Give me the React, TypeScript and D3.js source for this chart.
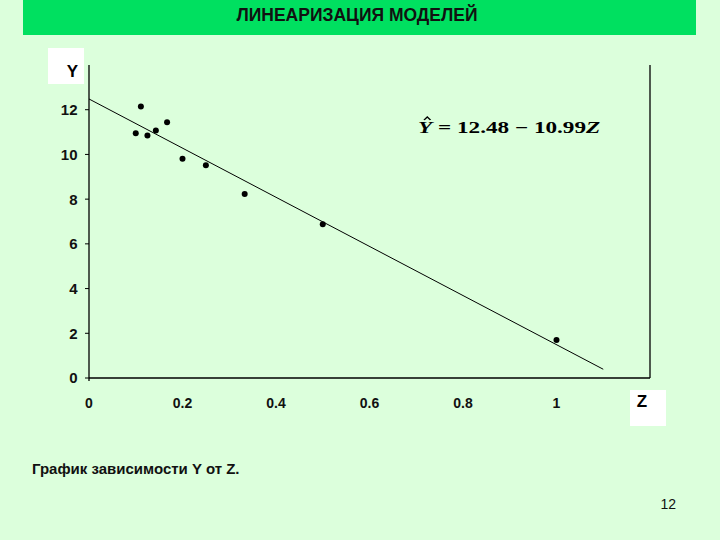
import React from "react";
import * as d3 from "d3";

const zValues = [0.1, 0.111, 0.125, 0.143, 0.167, 0.2, 0.25, 0.333, 0.5, 1];
const yValues = [10.95, 12.14, 10.85, 11.07, 11.44, 9.81, 9.52, 8.23, 6.88, 1.7];
const xTicks = [0, 0.2, 0.4, 0.6, 0.8, 1];
const xTickLabels = ["0", "0.2", "0.4", "0.6", "0.8", "1"];
const yTicks = [0, 2, 4, 6, 8, 10, 12];
const intercept = 12.48;
const slope = -10.99;
const lineZ = [0, 1.1];
const title = "ЛИНЕАРИЗАЦИЯ МОДЕЛЕЙ";
const caption = "График зависимости Y от Z.";
const pageNumber = "12";

const SANS = "'Liberation Sans', Arial, sans-serif";
const SERIF = "'Liberation Serif', 'Times New Roman', serif";

export default function App() {
  const x = d3.scaleLinear().domain([0, 1.2]).range([89, 650]);
  const y = d3.scaleLinear().domain([0, 14]).range([378, 65]);
  const line = d3
    .line<number>()
    .x((z) => x(z))
    .y((z) => y(intercept + slope * z));

  return (
    <svg
      width={720}
      height={540}
      style={{ position: "absolute", left: 0, top: 0 }}
      fontFamily={SANS}
    >
      <rect x={0} y={0} width={720} height={540} fill="#dcffdc" />
      <rect x={23} y={0} width={673} height={35} fill="#00e060" />
      <text x={357} y={21} textAnchor="middle" fontSize={17.5} fontWeight="bold" fill="#111">
        {title}
      </text>

      {/* axis label boxes */}
      <rect x={48} y={48} width={36} height={36} fill="#ffffff" />
      <text x={72.5} y={77} textAnchor="middle" fontSize={17} fontWeight="bold" fill="#000">
        Y
      </text>
      <rect x={630} y={390} width={36} height={36} fill="#ffffff" />
      <text x={642} y={407} textAnchor="middle" fontSize={17} fontWeight="bold" fill="#000">
        Z
      </text>

      {/* axes */}
      <line x1={x(0)} x2={x(0)} y1={y(14)} y2={y(0) + 3} stroke="#000" strokeWidth={1.3} />
      <line x1={x(0)} x2={x(1.2)} y1={y(0)} y2={y(0)} stroke="#000" strokeWidth={1.3} />
      <line x1={x(1.2)} x2={x(1.2)} y1={y(14)} y2={y(0)} stroke="#000" strokeWidth={1.3} />
      {yTicks.map((t) => (
        <g key={t}>
          <line x1={x(0) - 4} x2={x(0)} y1={y(t)} y2={y(t)} stroke="#000" strokeWidth={1} />
          <text
            x={77.5}
            y={y(t)}
            dy="0.36em"
            textAnchor="end"
            fontSize={15}
            fontWeight="bold"
            fill="#111"
          >
            {t}
          </text>
        </g>
      ))}
      {xTicks.map((t, i) => (
        <text
          key={t}
          x={x(t)}
          y={407.5}
          textAnchor="middle"
          fontSize={14}
          fontWeight="bold"
          fill="#111"
        >
          {xTickLabels[i]}
        </text>
      ))}

      {/* regression line */}
      <path d={line(lineZ) || ""} fill="none" stroke="#000" strokeWidth={1} />

      {/* points */}
      {zValues.map((z, i) => (
        <circle key={i} cx={x(z)} cy={y(yValues[i])} r={3} fill="#000" />
      ))}

      {/* equation */}
      <g transform="translate(418,133) scale(1.45,1)">
        <text x={0} y={0} fontFamily={SERIF} fontSize={16} fontWeight="bold" fill="#000">
          <tspan fontStyle="italic">Y</tspan>
          <tspan> = 12.48 − 10.99</tspan>
          <tspan fontStyle="italic">Z</tspan>
        </text>
        <path d="M4.2,-13 L6.4,-16 L8.6,-13" fill="none" stroke="#000" strokeWidth={1.2} />
      </g>

      <text x={32} y={474} fontSize={15} fontWeight="bold" fill="#111">
        {caption}
      </text>
      <text x={676} y={509} textAnchor="end" fontSize={14} fill="#111">
        {pageNumber}
      </text>
    </svg>
  );
}
